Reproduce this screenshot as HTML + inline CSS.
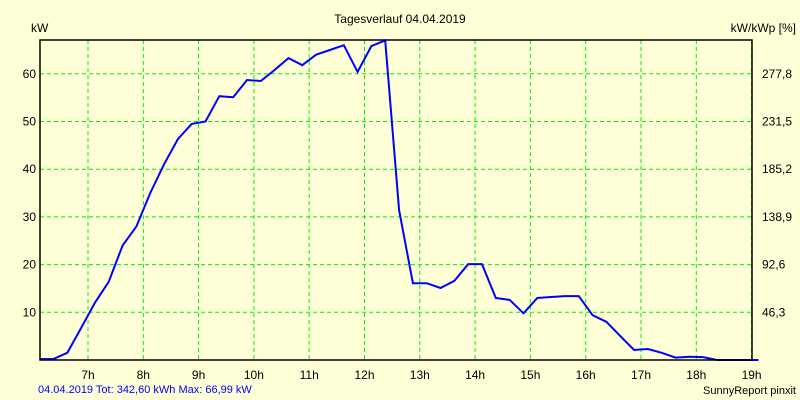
<!DOCTYPE html>
<html><head><meta charset="utf-8"><style>
body{margin:0;background:#ffffd7;}
svg{display:block;font-family:"Liberation Sans",sans-serif;font-size:12px;}
</style></head><body>
<svg id="chart" width="800" height="400">
<rect width="800" height="400" fill="#ffffd7"/>
<text x="400" y="23" text-anchor="middle">Tagesverlauf 04.04.2019</text>
<text x="31" y="32">kW</text>
<text x="796" y="32" text-anchor="end">kW/kWp [%]</text>
<g id="grid"></g>
<g id="axes"></g>
<polyline id="series" fill="none" stroke="#0000ff" stroke-width="2"/>
<rect x="40" y="40" width="712" height="320" fill="none" stroke="#000" stroke-width="1.5"/>
<text x="38" y="393" fill="#0000ff" font-size="11">04.04.2019 Tot: 342,60 kWh Max: 66,99 kW</text>
<text x="796" y="394" text-anchor="end" font-size="11">SunnyReport pinxit</text>
</svg>
<script>
const hourTicks=[7,8,9,10,11,12,13,14,15,16,17,18,19];
const leftTicks=[10,20,30,40,50,60];
const rightTickLabels=["46,3","92,6","138,9","185,2","231,5","277,8"];
const startHour=6.125;
const stepHours=0.25;
const power=[0.2,0.2,1.5,6.7,12,16.4,24,28,35,41,46.3,49.5,50,55.3,55.1,58.7,58.5,60.8,63.3,61.8,64,65,66,60.4,65.8,67,31.4,16.1,16.1,15.1,16.6,20.1,20.1,13,12.6,9.8,13,13.2,13.4,13.4,9.4,8,5,2.1,2.3,1.5,0.5,0.7,0.6,0,0,0,0];
const NS="http://www.w3.org/2000/svg";
const X0=40,X1=752,Y0=360,Y1=40;
const xs=h=>88+(h-7)*55.3;
const ys=v=>Y0-v*4.77;
const grid=document.getElementById('grid'),axes=document.getElementById('axes');
function mk(t,a,p){const e=document.createElementNS(NS,t);for(const k in a)e.setAttribute(k,a[k]);p.appendChild(e);return e;}
hourTicks.forEach(h=>{
  const x=xs(h);
  const l=mk('line',{x1:x,x2:x,y1:Y1,y2:Y0,stroke:'#00ee00','stroke-dasharray':'4,3'},grid);
  
  
  const t=mk('text',{x:x,y:379,'text-anchor':'middle'},axes);t.textContent=h+'h';
  
  
});
leftTicks.forEach((v,i)=>{
  const y=ys(v);
  const l=mk('line',{x1:X0,x2:X1,y1:y,y2:y,stroke:'#00ee00','stroke-dasharray':'4,3'},grid);
  
  
  const t=mk('text',{x:36,y:y+4,'text-anchor':'end'},axes);t.textContent=v;
  
  
  const r=mk('text',{x:762,y:y+4},axes);r.textContent=rightTickLabels[i];
  
  
});
document.getElementById('series').setAttribute('points',power.map((v,i)=>xs(startHour+i*stepHours).toFixed(1)+','+ys(v).toFixed(1)).join(' '));
</script>
</body></html>
